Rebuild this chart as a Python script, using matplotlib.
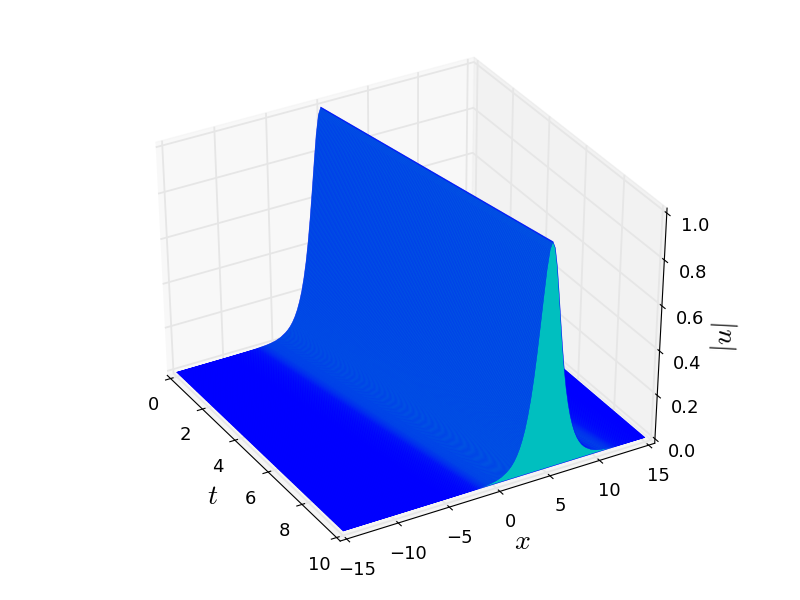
import numpy as np
import matplotlib
matplotlib.use('Agg')
import matplotlib.pyplot as plt
from mpl_toolkits.mplot3d.art3d import Poly3DCollection

plt.rcParams['mathtext.fontset'] = 'cm'
plt.rcParams['axes3d.automargin'] = True

# pulse shape: distance from the crest, height |u|
offsets = [-10, -8, -7, -6, -5.5, -5, -4.5, -4, -3.75, -3.5, -3.25, -3, -2.75, -2.5, -2.25, -2,
           -1.75, -1.5, -1.25, -1, -0.75, -0.5, -0.25, 0, 0.25, 0.5, 0.75, 1, 1.25, 1.5, 1.75,
           2, 2.25, 2.5, 2.75, 3, 3.25, 3.5, 3.75, 4, 4.5, 5, 5.5, 6, 7, 8, 10]
heights = [0.0, 0.001, 0.002, 0.005, 0.008, 0.013, 0.022, 0.037, 0.047, 0.060, 0.077, 0.099, 0.127, 0.163, 0.208, 0.266,
           0.337, 0.425, 0.530, 0.648, 0.771, 0.887, 0.969, 1.0, 0.969, 0.887, 0.771, 0.648, 0.530, 0.425, 0.337,
           0.266, 0.208, 0.163, 0.127, 0.099, 0.077, 0.060, 0.047, 0.037, 0.022, 0.013, 0.008, 0.005, 0.002, 0.001, 0.0]

# crest position along x, one per time slice
t_slices = [0.0, 0.5, 1.0, 1.5, 2.0, 2.5, 3.0, 3.5, 4.0, 4.5, 5.0, 5.5, 6.0, 6.5, 7.0, 7.5, 8.0, 8.5, 9.0, 9.5, 10.0]
crest_x = [0.0, 0.25, 0.5, 0.75, 1.0, 1.25, 1.5, 1.75, 2.0, 2.25, 2.5, 2.75, 3.0, 3.25, 3.5, 3.75, 4.0, 4.25, 4.5, 4.75, 5.0]
sub_steps = 20  # slices drawn between two listed times

x_ticks = [-15, -10, -5, 0, 5, 10, 15]
t_ticks = [0, 2, 4, 6, 8, 10]
u_ticks = [0.0, 0.2, 0.4, 0.6, 0.8, 1.0]

fig = plt.figure(figsize=(8, 6), dpi=100)
ax = fig.add_axes([0.116, 0.0815, 0.768, 0.832], projection='3d')
ax.apply_aspect = lambda position=None: None  # stretch the cube over the whole axes box
ax.set_box_aspect((1, 1, 1), zoom=1.0)
ax._dist = 14  # flatter perspective, focal length brings the size back
ax.set_proj_type('persp', focal_length=1.4)
ax.view_init(elev=38, azim=-30)

all_t = np.linspace(t_slices[0], t_slices[-1], (len(t_slices) - 1) * sub_steps + 1)
all_c = np.linspace(crest_x[0], crest_x[-1], len(all_t))
verts = []
for t, c in zip(all_t, all_c):
    pts = [(t, -15, 0)]
    for o, h in zip(offsets, heights):
        pts.append((t, o + c, h))
    pts.append((t, 15, 0))
    verts.append(pts)
poly = Poly3DCollection(verts, facecolors='c', edgecolors='b', linewidths=0.35)
ax.add_collection3d(poly)

ax.set_xlim(0, 10)
ax.set_ylim(-15, 15)
ax.set_zlim(0, 1)
ax.set_xticks(t_ticks)
ax.set_yticks(x_ticks)
ax.set_zticks(u_ticks)
ax.tick_params(labelsize=13)
ax.set_xlabel('$t$', fontsize=20, labelpad=5)
ax.set_ylabel('$x$', fontsize=20, labelpad=5)
ax.set_zlabel('$|u|$', fontsize=20, labelpad=5)

for axis in (ax.xaxis, ax.yaxis, ax.zaxis):
    axis._axinfo['grid']['color'] = (0.9, 0.9, 0.9, 1)
    axis._axinfo['grid']['linewidth'] = 1.3
    axis._axinfo['tick']['inward_factor'] = 0.2
    axis._axinfo['tick']['outward_factor'] = 0.1

fig.savefig('out.png', dpi=100)
